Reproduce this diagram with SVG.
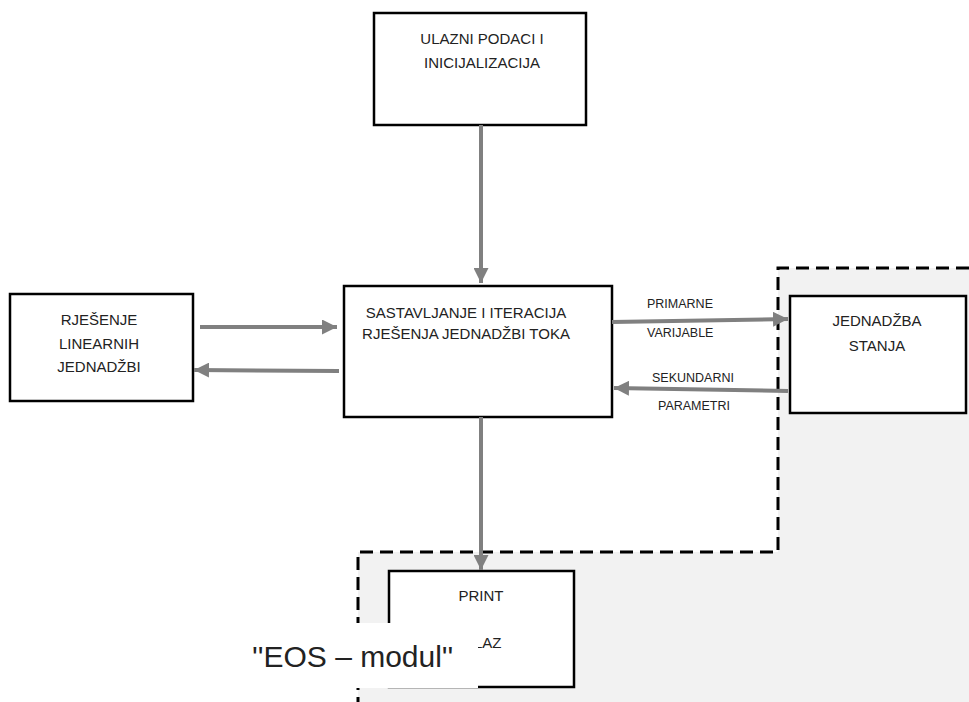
<svg xmlns="http://www.w3.org/2000/svg" width="969" height="702" viewBox="0 0 969 702">
<style>
.box{fill:#fff;stroke:#000;stroke-width:2.5}
.t{font-family:"Liberation Sans",Arial,sans-serif;font-size:15px;fill:#222;text-anchor:middle}
.lbl{font-family:"Liberation Sans",Arial,sans-serif;font-size:12.5px;fill:#222}
.c{stroke:#808080;stroke-width:4;fill:none;marker-end:url(#ah)}
.dash{fill:none;stroke:#000;stroke-width:3;stroke-dasharray:13 7}
</style>
<defs>
<marker id="ah" viewBox="0 0 10 10" refX="10" refY="5" markerUnits="userSpaceOnUse" markerWidth="15" markerHeight="15" orient="auto">
<path d="M0,0 L10,5 L0,10 Z" fill="#808080"/>
</marker>
</defs>
<rect width="969" height="702" fill="#fff"/>
<g id="eos-region">
<path d="M778,268 L969,268 L969,702 L358,702 L358,552 L778,552 Z" fill="#f2f2f2"/>
<path class="dash" d="M969,268 L778,268 L778,552 L358,552 L358,702"/>
</g>
<g id="ulazni">
<rect class="box" x="374" y="13" width="212" height="112"/>
<text class="t" x="482" y="44">ULAZNI PODACI I</text>
<text class="t" x="482" y="68">INICIJALIZACIJA</text>
</g>
<g id="sastavljanje">
<rect class="box" x="344" y="286" width="268" height="131"/>
<text class="t" x="466" y="318">SASTAVLJANJE I ITERACIJA</text>
<text class="t" x="466" y="339">RJEŠENJA JEDNADŽBI TOKA</text>
</g>
<g id="rjesenje">
<rect class="box" x="10" y="294" width="183" height="107"/>
<text class="t" x="99" y="325">RJEŠENJE</text>
<text class="t" x="99" y="349">LINEARNIH</text>
<text class="t" x="99" y="372">JEDNADŽBI</text>
</g>
<g id="jednadzba">
<rect class="box" x="790" y="296" width="176" height="117"/>
<text class="t" x="877" y="326">JEDNADŽBA</text>
<text class="t" x="877" y="351">STANJA</text>
</g>
<g id="print">
<rect class="box" x="389" y="571" width="185" height="116"/>
<text class="t" x="481" y="601">PRINT</text>
<text class="t" x="481" y="648">IZLAZ</text>
</g>
<g id="connectors">
<path class="c" d="M481,125 L481,283"/>
<path class="c" d="M200,327 L337,327"/>
<path class="c" d="M339,371 L194,370"/>
<path class="c" d="M612,322 L788,319"/>
<path class="c" d="M788,391 L614,388"/>
<path class="c" d="M481,417 L481,570"/>
</g>
<g id="labels">
<text class="lbl" x="647" y="308">PRIMARNE</text>
<text class="lbl" x="647" y="337">VARIJABLE</text>
<text class="lbl" x="652" y="382">SEKUNDARNI</text>
<text class="lbl" x="658" y="410">PARAMETRI</text>
</g>
<g id="eos-label">
<rect x="240" y="623" width="238" height="65" fill="#fff"/>
<text x="252" y="667" font-family="'Liberation Sans',Arial,sans-serif" font-size="30" fill="#222">''EOS – modul''</text>
</g>
</svg>
